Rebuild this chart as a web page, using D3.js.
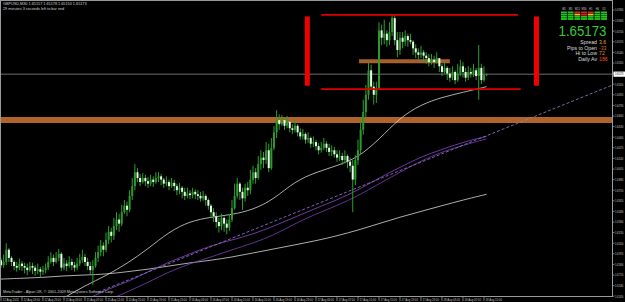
<!DOCTYPE html>
<html>
<head>
<meta charset="utf-8">
<script src="https://cdn.jsdelivr.net/npm/d3@7"></script>
<style>
  body { margin: 0; background: #000; overflow: hidden; }
  svg { display: block; font-family: 'Liberation Sans', Arial, sans-serif; }
</style>
</head>
<body>
<svg width="625" height="302"></svg>
<script>
// ---- data (GBPUSD M30, 12-18 Aug 2011) ----
let headerLine = 'GBPUSD,M30  1.65157 1.65178 1.65150 1.65173'
let timerLine = '29 minutes 3 seconds left to bar end'
let footerLine = 'MetaTrader - Alpari UK, © 2001-2009 MetaQuotes Software Corp.'

let firstOpen = 1.6289
let closes = [
  1.6283, 1.6287, 1.6302, 1.6292, 1.6287, 1.6282, 1.6280, 1.6285, 1.6282, 1.6280,
  1.6277, 1.6282, 1.6280, 1.6276, 1.6278, 1.6275, 1.6277, 1.6280, 1.6287, 1.6292,
  1.6287, 1.6292, 1.6297, 1.6280, 1.6285, 1.6282, 1.6287, 1.6283, 1.6280, 1.6285,
  1.6289, 1.6293, 1.6287, 1.6282, 1.6277, 1.6282, 1.6292, 1.6299, 1.6307, 1.6302,
  1.6314, 1.6324, 1.6319, 1.6331, 1.6339, 1.6334, 1.6348, 1.6356, 1.6351, 1.6368,
  1.6380, 1.6397, 1.6390, 1.6385, 1.6390, 1.6386, 1.6383, 1.6388, 1.6385, 1.6390,
  1.6392, 1.6388, 1.6383, 1.6385, 1.6380, 1.6384, 1.6380, 1.6375, 1.6378, 1.6373,
  1.6368, 1.6371, 1.6369, 1.6373, 1.6370, 1.6368, 1.6365, 1.6368, 1.6363, 1.6356,
  1.6348, 1.6343, 1.6336, 1.6331, 1.6341, 1.6334, 1.6329, 1.6339, 1.6353, 1.6368,
  1.6383, 1.6373, 1.6365, 1.6378, 1.6375, 1.6388, 1.6397, 1.6390, 1.6407, 1.6415,
  1.6412, 1.6424, 1.6402, 1.6427, 1.6446, 1.6461, 1.6456, 1.6461, 1.6454, 1.6459,
  1.6451, 1.6449, 1.6454, 1.6446, 1.6441, 1.6444, 1.6437, 1.6439, 1.6432, 1.6434,
  1.6429, 1.6424, 1.6427, 1.6432, 1.6427, 1.6422, 1.6424, 1.6419, 1.6415, 1.6417,
  1.6412, 1.6417, 1.6410, 1.6405, 1.6388, 1.6412, 1.6424, 1.6449, 1.6471, 1.6492,
  1.6522, 1.6502, 1.6492, 1.6500, 1.6571, 1.6562, 1.6567, 1.6559, 1.6569, 1.6586,
  1.6559, 1.6547, 1.6562, 1.6557, 1.6564, 1.6559, 1.6557, 1.6549, 1.6544, 1.6541,
  1.6544, 1.6540, 1.6537, 1.6532, 1.6535, 1.6532, 1.6537, 1.6527, 1.6520, 1.6525,
  1.6518, 1.6513, 1.6520, 1.6510, 1.6518, 1.6527, 1.6520, 1.6513, 1.6520, 1.6518,
  1.6522, 1.6515, 1.6525, 1.6510, 1.6516, 1.65173
]
let highs = [
  1.6292, 1.6296, 1.6310, 1.6304, 1.6294, 1.6289, 1.6287, 1.6291, 1.6288, 1.6286,
  1.6285, 1.6287, 1.6286, 1.6283, 1.6285, 1.6281, 1.6282, 1.6285, 1.6294, 1.6299,
  1.6296, 1.6299, 1.6303, 1.6299, 1.6292, 1.6289, 1.6294, 1.6291, 1.6287, 1.6292,
  1.6297, 1.6302, 1.6297, 1.6292, 1.6287, 1.6289, 1.6299, 1.6307, 1.6314, 1.6311,
  1.6323, 1.6331, 1.6329, 1.6341, 1.6348, 1.6346, 1.6357, 1.6363, 1.6361, 1.6375,
  1.6390, 1.6407, 1.6402, 1.6395, 1.6396, 1.6394, 1.6391, 1.6394, 1.6392, 1.6397,
  1.6397, 1.6395, 1.6390, 1.6392, 1.6388, 1.6390, 1.6388, 1.6383, 1.6384, 1.6380,
  1.6378, 1.6378, 1.6375, 1.6378, 1.6376, 1.6375, 1.6373, 1.6374, 1.6370, 1.6365,
  1.6358, 1.6353, 1.6348, 1.6341, 1.6346, 1.6343, 1.6339, 1.6346, 1.6363, 1.6383,
  1.6390, 1.6385, 1.6378, 1.6383, 1.6385, 1.6400, 1.6405, 1.6402, 1.6417, 1.6424,
  1.6422, 1.6434, 1.6432, 1.6439, 1.6454, 1.6473, 1.6468, 1.6467, 1.6464, 1.6466,
  1.6461, 1.6456, 1.6461, 1.6456, 1.6451, 1.6450, 1.6446, 1.6446, 1.6441, 1.6441,
  1.6437, 1.6433, 1.6434, 1.6439, 1.6435, 1.6432, 1.6430, 1.6428, 1.6424, 1.6424,
  1.6421, 1.6424, 1.6419, 1.6415, 1.6412, 1.6418, 1.6437, 1.6461, 1.6486, 1.6504,
  1.6532, 1.6529, 1.6508, 1.6508, 1.6581, 1.6578, 1.6584, 1.6571, 1.6581, 1.6591,
  1.6590, 1.6569, 1.6569, 1.6569, 1.6571, 1.6567, 1.6567, 1.6559, 1.6554, 1.6549,
  1.6552, 1.6547, 1.6544, 1.6542, 1.6542, 1.6540, 1.6544, 1.6537, 1.6530, 1.6532,
  1.6527, 1.6525, 1.6527, 1.6522, 1.6530, 1.6535, 1.6532, 1.6525, 1.6527, 1.6525,
  1.6530, 1.6525, 1.6553, 1.6530, 1.6527, 1.65178
]
let lows = [
  1.6280, 1.6280, 1.6283, 1.6287, 1.6282, 1.6277, 1.6275, 1.6277, 1.6276, 1.6273,
  1.6271, 1.6275, 1.6272, 1.6270, 1.6272, 1.6268, 1.6271, 1.6273, 1.6277, 1.6285,
  1.6282, 1.6285, 1.6288, 1.6276, 1.6277, 1.6276, 1.6280, 1.6277, 1.6275, 1.6277,
  1.6282, 1.6286, 1.6282, 1.6277, 1.6272, 1.6259, 1.6280, 1.6287, 1.6294, 1.6294,
  1.6299, 1.6309, 1.6311, 1.6314, 1.6326, 1.6324, 1.6331, 1.6346, 1.6343, 1.6348,
  1.6363, 1.6375, 1.6385, 1.6380, 1.6383, 1.6380, 1.6378, 1.6380, 1.6379, 1.6383,
  1.6385, 1.6381, 1.6378, 1.6380, 1.6375, 1.6378, 1.6374, 1.6369, 1.6370, 1.6365,
  1.6363, 1.6365, 1.6364, 1.6365, 1.6364, 1.6363, 1.6361, 1.6362, 1.6356, 1.6351,
  1.6341, 1.6336, 1.6329, 1.6323, 1.6326, 1.6324, 1.6321, 1.6325, 1.6336, 1.6351,
  1.6365, 1.6363, 1.6351, 1.6361, 1.6368, 1.6370, 1.6383, 1.6383, 1.6388, 1.6400,
  1.6402, 1.6407, 1.6397, 1.6400, 1.6424, 1.6439, 1.6449, 1.6454, 1.6449, 1.6451,
  1.6446, 1.6444, 1.6446, 1.6441, 1.6437, 1.6437, 1.6432, 1.6433, 1.6427, 1.6428,
  1.6424, 1.6419, 1.6421, 1.6424, 1.6422, 1.6417, 1.6417, 1.6415, 1.6410, 1.6411,
  1.6406, 1.6408, 1.6402, 1.6397, 1.6348, 1.6381, 1.6406, 1.6418, 1.6443, 1.6464,
  1.6486, 1.6498, 1.6480, 1.6482, 1.6498, 1.6553, 1.6554, 1.6551, 1.6553, 1.6564,
  1.6553, 1.6538, 1.6541, 1.6549, 1.6552, 1.6551, 1.6554, 1.6541, 1.6537, 1.6535,
  1.6537, 1.6532, 1.6530, 1.6527, 1.6529, 1.6525, 1.6530, 1.6520, 1.6515, 1.6518,
  1.6510, 1.6508, 1.6510, 1.6505, 1.6508, 1.6515, 1.6513, 1.6508, 1.6510, 1.6513,
  1.6514, 1.6510, 1.6486, 1.6505, 1.6508, 1.65150
]

// moving averages sampled every 8 bars
let maBars = [0, 8, 16, 24, 32, 40, 48, 56, 64, 72, 80, 88, 96, 104, 112, 120, 128, 136, 144, 152, 160, 168, 176, 185]
let fastMA = [1.6200, 1.6213, 1.6228, 1.6243, 1.6258, 1.6270, 1.6285, 1.6303, 1.6324, 1.6337, 1.6342, 1.6345,
  1.6351, 1.6364, 1.6386, 1.6397, 1.6405, 1.6415, 1.6437, 1.6464, 1.6480, 1.6489, 1.6495, 1.6502]
let slowMA = [1.6266, 1.6267, 1.6268, 1.6270, 1.6271, 1.6272, 1.6275, 1.6278, 1.6282, 1.6286, 1.6289, 1.6293,
  1.6298, 1.6303, 1.6308, 1.6313, 1.6319, 1.6326, 1.6334, 1.6342, 1.6349, 1.6356, 1.6363, 1.6370]
let purpleMA1 = [null, null, null, 1.6228, 1.6240, 1.6253, 1.6262, 1.6275, 1.6287, 1.6297, 1.6307, 1.6314,
  1.6321, 1.6331, 1.6342, 1.6353, 1.6363, 1.6375, 1.6390, 1.6403, 1.6416, 1.6425, 1.6434, 1.6441]
let purpleMA2 = [null, null, null, null, 1.6228, 1.6239, 1.6250, 1.6262, 1.6275, 1.6285, 1.6293, 1.6302,
  1.6310, 1.6320, 1.6334, 1.6346, 1.6356, 1.6368, 1.6383, 1.6397, 1.6411, 1.6422, 1.6430, 1.6438]

// drawn objects
let trendLine = [[37, 1.6250], [233, 1.6504]]
let redTop = [[122, 1.6590], [197, 1.6590]]
let redBottom = [[122, 1.6499], [198, 1.6499]]
let redLeft = [[116.7, 1.6588], [116.7, 1.6503]]
let redRight = [[204, 1.6588], [204, 1.6503]]
let brownLevel = 1.6461
let brownShort = [[136.4, 1.6533], [171, 1.6533]]
let bid = 1.65173

// axes
let timeLabels = ['12 Aug 2011', '12 Aug 19:00', '12 Aug 23:00', '15 Aug 03:00', '15 Aug 07:00', '15 Aug 11:00',
  '15 Aug 15:00', '15 Aug 19:00', '15 Aug 23:00', '16 Aug 03:00', '16 Aug 07:00', '16 Aug 11:00',
  '16 Aug 15:00', '16 Aug 19:00', '16 Aug 23:00', '17 Aug 03:00', '17 Aug 07:00', '17 Aug 11:00',
  '17 Aug 15:00', '17 Aug 19:00', '17 Aug 23:00', '18 Aug 03:00', '18 Aug 07:00', '18 Aug 11:00']
let priceTicks = [1.65960, 1.65830, 1.65700, 1.65570, 1.65440, 1.65310, 1.65180, 1.65050, 1.64920, 1.64790,
  1.64660, 1.64530, 1.64400, 1.64270, 1.64140, 1.64010, 1.63880, 1.63750, 1.63620, 1.63490,
  1.63360, 1.63230, 1.63100, 1.62970, 1.62840, 1.62710, 1.62580, 1.62450]

// dashboard
let tfNames = ['M1', 'M5', 'M15', 'M30', 'H1', 'H4', 'D1']
let signalRows = [
  ['g', 'g', 'r', 'r', 'r', 'g', 'g'],
  ['g', 'g', 'y', 'r', 'y', 'g', 'g'],
  ['g', 'g', 'g', 'g', 'g', 'g', 'g'],
  ['g', 'g', 'g', 'g', 'g', 'g', 'g']
]
let statNames = ['Spread', 'Pips to Open', 'Hi to Low', 'Daily Av']
let statValues = ['3.6', '-33', '72', '186']

// ---- chart ----
let width = 625
let height = 302
let plot = { left: 1, right: 612.5, top: 1, bottom: 296.5 }

let svg = d3.select('svg')
svg.append('rect').attr('width', width).attr('height', height).attr('fill', '#000')

let xScale = d3.scaleLinear().domain([0, 233]).range([1, 612.6])
let yScale = d3.scaleLinear().domain([1.6245, 1.6596]).range([296.2, 10])

svg.append('clipPath').attr('id', 'plotclip')
  .append('rect')
  .attr('x', plot.left).attr('y', plot.top)
  .attr('width', plot.right - plot.left).attr('height', plot.bottom - plot.top)

let g = svg.append('g').attr('clip-path', 'url(#plotclip)')

let segLine = d3.line().x(d => xScale(d[0])).y(d => yScale(d[1]))

// horizontal brown level
g.append('line')
  .attr('x1', plot.left).attr('x2', plot.right)
  .attr('y1', yScale(brownLevel)).attr('y2', yScale(brownLevel))
  .attr('stroke', '#b0632b').attr('stroke-width', 6)

g.append('path').attr('d', segLine(brownShort))
  .attr('stroke', '#a5602c').attr('stroke-width', 4).attr('fill', 'none')

// bid line
g.append('line')
  .attr('x1', plot.left).attr('x2', plot.right)
  .attr('y1', yScale(bid)).attr('y2', yScale(bid))
  .attr('stroke', '#8a8a8a').attr('stroke-width', 0.8)

// moving averages
let maLine = d3.line()
  .defined(d => d[1] != null)
  .x(d => xScale(d[0])).y(d => yScale(d[1]))
  .curve(d3.curveBasis)

let maSeries = [
  { values: slowMA, color: '#d8d8d8', w: 0.8 },
  { values: purpleMA2, color: '#7b3fb8', w: 0.8 },
  { values: purpleMA1, color: '#8a48c8', w: 0.8 },
  { values: fastMA, color: '#d8d8d8', w: 0.8 }
]
maSeries.forEach(s => {
  g.append('path')
    .attr('d', maLine(maBars.map((b, i) => [b, s.values[i]])))
    .attr('fill', 'none').attr('stroke', s.color).attr('stroke-width', s.w)
})

g.append('path').attr('d', segLine(trendLine))
  .attr('fill', 'none').attr('stroke', '#9a7fd8').attr('stroke-width', 0.8)
  .attr('stroke-dasharray', '3,2')

// candles
let candles = closes.map((c, i) => ({
  i: i,
  o: i === 0 ? firstOpen : closes[i - 1],
  h: highs[i],
  l: lows[i],
  c: c
}))

g.selectAll('line.wick')
  .data(candles)
  .enter()
  .append('line')
  .attr('class', 'wick')
  .attr('x1', d => xScale(d.i)).attr('x2', d => xScale(d.i))
  .attr('y1', d => yScale(d.h)).attr('y2', d => yScale(d.l))
  .attr('stroke', '#2f9e2f').attr('stroke-width', 1)

g.selectAll('rect.body')
  .data(candles)
  .enter()
  .append('rect')
  .attr('class', 'body')
  .attr('x', d => xScale(d.i) - 1)
  .attr('width', 2)
  .attr('y', d => yScale(Math.max(d.o, d.c)))
  .attr('height', d => Math.max(1, Math.abs(yScale(d.o) - yScale(d.c))))
  .attr('fill', d => d.c >= d.o ? '#2c9a2c' : '#e6fbe6')

// red box objects
g.append('path').attr('d', segLine(redTop)).attr('stroke', '#e00000').attr('stroke-width', 1.6)
g.append('path').attr('d', segLine(redBottom)).attr('stroke', '#e00000').attr('stroke-width', 1.6)
g.append('path').attr('d', segLine(redLeft)).attr('stroke', '#f00000').attr('stroke-width', 5)
g.append('path').attr('d', segLine(redRight)).attr('stroke', '#f00000').attr('stroke-width', 5)

// frame
svg.append('rect')
  .attr('x', 0.5).attr('y', 0.5)
  .attr('width', plot.right - 0.5).attr('height', plot.bottom - 0.5)
  .attr('fill', 'none').attr('stroke', '#9a9a9a').attr('stroke-width', 1)

// price axis (labels squeezed horizontally into the strip right of the plot)
let yAxis = svg.append('g').attr('fill', '#c4c4c4').attr('font-size', 3.9)
priceTicks.forEach(p => {
  yAxis.append('line')
    .attr('x1', plot.right).attr('x2', plot.right + 2)
    .attr('y1', yScale(p)).attr('y2', yScale(p))
    .attr('stroke', '#9a9a9a').attr('stroke-width', 0.8)
  yAxis.append('text')
    .attr('transform', 'translate(' + [plot.right + 2.4, yScale(p) + 1.3] + ') scale(0.6,1)')
    .text(p.toFixed(5))
})
yAxis.append('rect')
  .attr('x', plot.right + 1).attr('y', yScale(bid) - 2.6)
  .attr('width', 11.5).attr('height', 5.2).attr('fill', '#ffffff')
yAxis.append('text')
  .attr('transform', 'translate(' + [plot.right + 2.4, yScale(bid) + 1.3] + ') scale(0.6,1)')
  .attr('fill', '#000').text(bid.toFixed(5))

// time axis
let xAxis = svg.append('g').attr('fill', '#c4c4c4').attr('font-size', 3.8)
timeLabels.forEach((t, k) => {
  let xx = xScale(k * 8)
  xAxis.append('line')
    .attr('x1', xx).attr('x2', xx)
    .attr('y1', plot.bottom).attr('y2', plot.bottom + 4.5)
    .attr('stroke', '#9a9a9a').attr('stroke-width', 0.8)
  xAxis.append('text').attr('x', xx + 1.5).attr('y', 300.6)
    .attr('textLength', 16.5).attr('lengthAdjust', 'spacingAndGlyphs')
    .text(t)
})

// corner texts
svg.append('text').attr('x', 3).attr('y', 5.3).attr('font-size', 3.8).attr('fill', '#d0d0d0').text(headerLine)
svg.append('text').attr('x', 3).attr('y', 9.6).attr('font-size', 3.8).attr('fill', '#d0d0d0').text(timerLine)
svg.append('text').attr('x', 3).attr('y', 293.2).attr('font-size', 3.8).attr('fill', '#d0d0d0').text(footerLine)

// dashboard
let dash = svg.append('g')
let cellColors = { g: '#22c822', r: '#e02020', y: '#e8c020' }
let cellX = d3.scaleBand().domain(d3.range(tfNames.length)).range([561, 607]).paddingInner(0.12)
tfNames.forEach((n, j) => {
  dash.append('text')
    .attr('x', cellX(j) + cellX.bandwidth() / 2).attr('y', 10.2)
    .attr('text-anchor', 'middle').attr('font-size', 2.6).attr('fill', '#cfcfcf').text(n)
})
signalRows.forEach((row, r) => {
  row.forEach((c, j) => {
    dash.append('rect')
      .attr('x', cellX(j)).attr('y', 11.5 + r * 2.2)
      .attr('width', cellX.bandwidth()).attr('height', 1.8)
      .attr('fill', cellColors[c])
  })
})
dash.append('text')
  .attr('x', 582.5).attr('y', 36.2).attr('text-anchor', 'middle')
  .attr('font-size', 14).attr('fill', '#33cc33')
  .attr('textLength', 48).attr('lengthAdjust', 'spacingAndGlyphs')
  .text(bid.toFixed(5))
let statColors = ['#e8a030', '#d86a24', '#e88a2c', '#ff4a20']
statNames.forEach((n, k) => {
  dash.append('text')
    .attr('x', 597).attr('y', 44 + k * 5.7).attr('text-anchor', 'end')
    .attr('font-size', 5.2).attr('fill', '#dcdcdc').text(n)
  dash.append('text')
    .attr('x', 599).attr('y', 44 + k * 5.7)
    .attr('font-size', 5.2).attr('fill', statColors[k]).text(statValues[k])
})
</script>
</body>
</html>
